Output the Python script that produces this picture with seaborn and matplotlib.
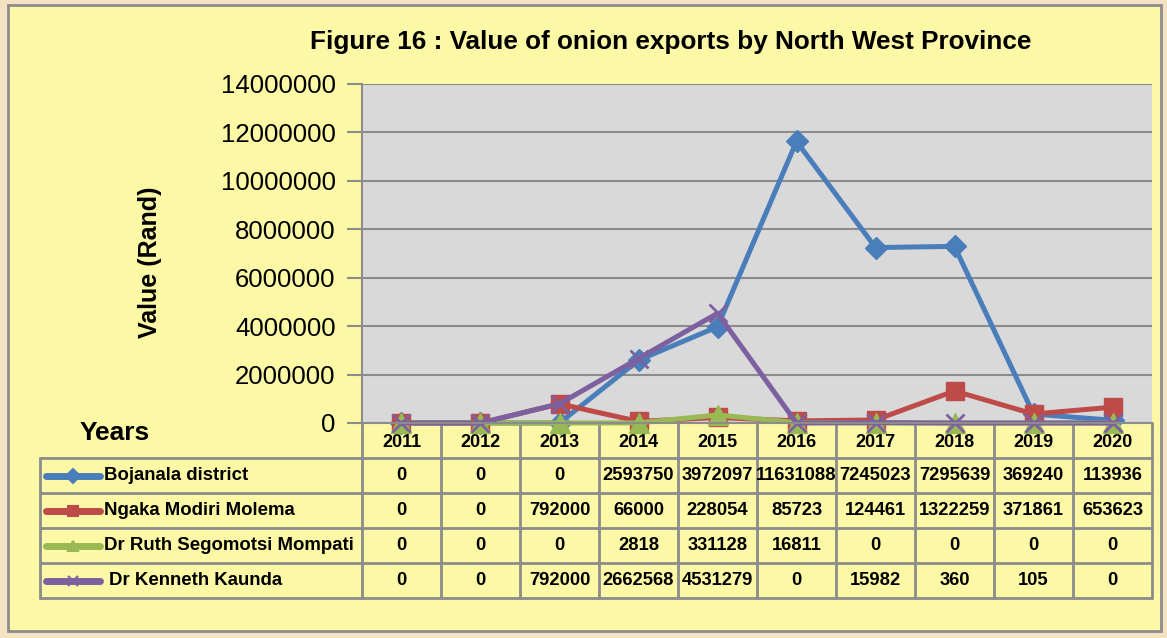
import matplotlib
matplotlib.use("Agg")
import matplotlib.pyplot as plt
import seaborn as sns
from matplotlib.patches import Rectangle

years = ['2011', '2012', '2013', '2014', '2015', '2016', '2017', '2018', '2019', '2020']
series_names = ['Bojanala district', 'Ngaka Modiri Molema', 'Dr Ruth Segomotsi Mompati', 'Dr Kenneth Kaunda']
bojanala = [0, 0, 0, 2593750, 3972097, 11631088, 7245023, 7295639, 369240, 113936]
ngaka = [0, 0, 792000, 66000, 228054, 85723, 124461, 1322259, 371861, 653623]
ruth = [0, 0, 0, 2818, 331128, 16811, 0, 0, 0, 0]
kaunda = [0, 0, 792000, 2662568, 4531279, 0, 15982, 360, 105, 0]
all_values = [bojanala, ngaka, ruth, kaunda]

colors = ['#4a7ebb', '#be4b48', '#98b954', '#7d60a0']
markers = ['D', 's', '^', 'x']
msizes = [11, 13, 15, 13]

W, H = 1167, 638
sns.set_style("white")
plt.rcParams['font.family'] = ['Liberation Sans', 'DejaVu Sans']
plt.rcParams['text.color'] = 'black'
plt.rcParams['xtick.color'] = 'black'
plt.rcParams['ytick.color'] = 'black'

fig = plt.figure(figsize=(W / 100, H / 100), dpi=100)
fig.patch.set_facecolor('#f3e3c3')

# background overlay in pixel coordinates
bg = fig.add_axes([0, 0, 1, 1], zorder=0)
bg.set_xlim(0, W)
bg.set_ylim(H, 0)
bg.axis('off')
bg.add_patch(Rectangle((8, 5), 1153, 626, facecolor='#fcf8a6', edgecolor='#8c8c8c', lw=2))

# main chart area
L, R, T, B = 362, 1152, 84, 423
ax = fig.add_axes([L / W, 1 - B / H, (R - L) / W, (B - T) / H], zorder=1)
ax.set_facecolor('#d9d9d9')

for name, vals, c, m, ms in zip(series_names, all_values, colors, markers, msizes):
    sns.lineplot(x=years, y=vals, ax=ax, color=c, lw=3.6, marker=m, markersize=ms,
                 markeredgecolor=c, markeredgewidth=2 if m == 'x' else 1, sort=False,
                 clip_on=False)

ax.set_xlim(-0.5, 9.5)
ax.set_ylim(0, 14000000)
ax.set_yticks(range(0, 14000001, 2000000))
ax.set_yticklabels([str(v) for v in range(0, 14000001, 2000000)], fontsize=18.5)
ax.yaxis.grid(True, color='#8c8c8c', lw=1.5)
ax.set_axisbelow(True)
ax.tick_params(axis='y', direction='out', length=11, width=1.5, color='#8c8c8c', pad=8, left=True)
ax.set_xticks(range(len(years)))
ax.set_xticklabels(years, fontsize=13, fontweight='bold')
ax.tick_params(axis='x', length=0, pad=8)
for s in ['top', 'right']:
    ax.spines[s].set_visible(False)
ax.spines['left'].set_color('#8c8c8c')
ax.spines['left'].set_linewidth(1.5)
ax.spines['bottom'].set_color('#8c8c8c')
ax.spines['bottom'].set_linewidth(1.5)
ax.set_ylabel('')
ax.set_xlabel('')

# titles
bg.text(671, 42, 'Figure 16 : Value of onion exports by North West Province',
        ha='center', va='center', fontsize=18.8, fontweight='bold')
bg.text(150, 262, 'Value (Rand)', ha='center', va='center', rotation=90,
        fontsize=18, fontweight='bold')
bg.text(115, 433, 'Years', ha='center', va='center', fontsize=19, fontweight='bold')

# data table
gc = '#8c8c8c'
col_w = (R - L) / len(years)
row_top, row_h = 458, 35
n_rows = len(series_names)
tbl_left = 40
for i in range(len(years) + 1):
    x = L + i * col_w
    bg.plot([x, x], [B, row_top + n_rows * row_h], color=gc, lw=2)
bg.plot([tbl_left, tbl_left], [row_top, row_top + n_rows * row_h], color=gc, lw=2)
for j in range(n_rows + 1):
    y = row_top + j * row_h
    bg.plot([tbl_left, R], [y, y], color=gc, lw=2)

for j, (name, vals, c, m) in enumerate(zip(series_names, all_values, colors, markers)):
    yc = row_top + (j + 0.5) * row_h
    bg.plot([46, 100], [yc, yc], color=c, lw=5, solid_capstyle='round')
    bg.plot([73], [yc], marker=m, color=c, markersize=7, markeredgewidth=1.5)
    bg.text(104 if j < 3 else 109, yc, name, ha='left', va='center', fontsize=13.4, fontweight='bold')
    for i, v in enumerate(vals):
        bg.text(L + (i + 0.5) * col_w, yc, str(v), ha='center', va='center',
                fontsize=13.2, fontweight='bold')

fig.savefig('out.png', dpi=100, facecolor=fig.get_facecolor())
